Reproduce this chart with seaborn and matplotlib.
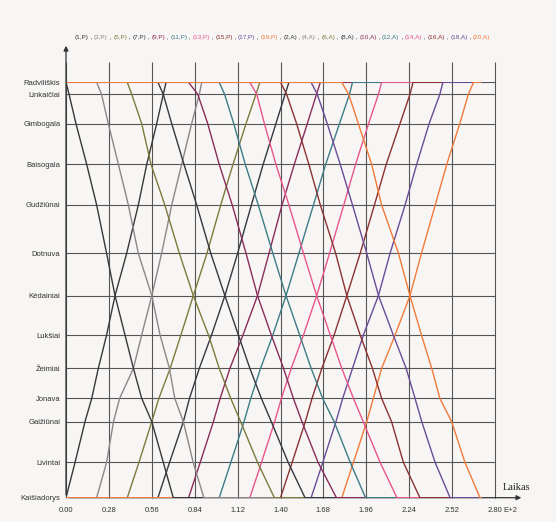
import matplotlib
matplotlib.use("Agg")
import matplotlib.pyplot as plt
import pandas as pd
import seaborn as sns

sns.set_theme(style="white")
plt.rcParams["font.family"] = ["Liberation Sans", "DejaVu Sans"]

# Stations from Radviliškis (top) to Kaišiadorys (bottom) and their distance along the line, km
stations = ["Radviliškis", "Linkaičiai", "Gimbogala", "Baisogala", "Gudžiūnai", "Dotnuva",
            "Kėdainiai", "Lukšiai", "Žeimiai", "Jonava", "Gaižiūnai", "Livintai", "Kaišiadorys"]
station_km = [0.0, 3.6, 12.4, 24.6, 36.8, 51.3, 64.0, 75.8, 85.8, 94.8, 101.8, 114.0, 124.6]

# Passing times (minutes), listed station by station from Radviliškis down to Kaišiadorys.
# P trains run downwards, A trains run upwards.
p1 = [0, 2, 6.5, 13.5, 20, 26.5, 32, 38.5, 44, 49.4, 56, 63.5, 70]
p3 = [20, 23.2, 27.6, 34.2, 40.7, 47.2, 56, 61.4, 67.5, 71, 76.6, 83, 90]
p5 = [40, 42.9, 49.4, 55.5, 64.5, 74, 83.1, 93, 100, 107.5, 114, 125, 136]
p7 = [60, 63.5, 69, 77, 85.3, 94.5, 103.7, 112.5, 120, 127.5, 134, 145, 156]
p9 = [80, 86, 92.5, 100, 108.5, 117.5, 125, 134, 142, 148.4, 154, 164.5, 176.5]
p11 = [100, 103.5, 109.5, 117, 125.5, 135, 143.6, 152.5, 160, 167.5, 175, 185.5, 195.5]
p13 = [120, 124.5, 129.5, 137, 145.5, 155, 163.6, 172.5, 180, 187.6, 194, 205, 216]
p15 = [140, 144, 150.5, 158.5, 166, 176, 183.3, 192, 200, 206, 212.5, 220.2, 231]
p17 = [160, 164, 170.5, 179, 187, 196.3, 204, 213.6, 222, 227.8, 232.2, 240.9, 250.7]
p19 = [180, 184.5, 190.8, 199.5, 206, 217, 224.5, 232, 238.7, 244, 251.7, 260.4, 270.2]

a2 = [65.3, 63.5, 59.2, 52.7, 47.2, 39.6, 32, 26.5, 21.1, 16.8, 12.4, 5.9, 0]
a4 = [88.6, 87, 82, 75.5, 69, 62.4, 56, 49.4, 44, 35, 31, 26.5, 20]
a6 = [126.5, 124, 117.5, 109, 101, 92, 83.1, 75, 68, 60.6, 56, 47.6, 40]
a8 = [145.5, 143, 137, 128.7, 121, 112, 103.7, 95, 87, 80.6, 76.6, 67.6, 60]
a10 = [166, 163.5, 157.5, 149, 141, 132.5, 125, 115.5, 107, 100.6, 96.2, 87.6, 80]
a12 = [187, 185, 178.5, 169.5, 161.5, 152, 143.6, 135, 127, 120.6, 116.2, 107.6, 100]
a14 = [206, 203.9, 197.5, 189, 181.3, 172, 163.6, 155, 147, 140.6, 136.2, 127.6, 120]
a16 = [226.5, 224.5, 218, 209, 201.3, 192, 183.3, 175, 167, 160.6, 156.2, 147.6, 140]
a18 = [246, 244, 237, 228.9, 221.3, 211.5, 203.9, 194.1, 187, 180.6, 176.2, 167.6, 160]
a20 = [266, 262.6, 257, 248.5, 241, 232, 224.5, 214.8, 206, 200.6, 196.3, 187.6, 180]

p_trains = {1: p1, 3: p3, 5: p5, 7: p7, 9: p9, 11: p11, 13: p13, 15: p15, 17: p17, 19: p19}
a_trains = {2: a2, 4: a4, 6: a6, 8: a8, 10: a10, 12: a12, 14: a14, 16: a16, 18: a18, 20: a20}
t_end = 271

colours = ["#383838", "#8e8688", "#7d7a3c", "#34383f", "#8a2c5c",
           "#3d7c86", "#e8558d", "#8a3232", "#6b4c98", "#f27a3a"]

# One long table: each train waits at its origin from t=0, runs, then stays at its terminus
rows = []
for n, times in a_trains.items():
    label = f"({n},A)"
    seq = list(zip(times, station_km))[::-1]
    pts = [(0, station_km[-1])] + seq + [(t_end, station_km[0])]
    rows += [(label, t, km) for t, km in pts]
for n, times in p_trains.items():
    label = f"({n},P)"
    seq = list(zip(times, station_km))
    pts = [(0, station_km[0])] + seq + [(t_end, station_km[-1])]
    rows += [(label, t, km) for t, km in pts]
df = pd.DataFrame(rows, columns=["train", "t", "km"])

p_labels = [f"({n},P)" for n in p_trains]
a_labels = [f"({n},A)" for n in a_trains]
palette = {lab: colours[i] for i, lab in enumerate(p_labels)}
palette.update({lab: colours[i] for i, lab in enumerate(a_labels)})

bg = "#f7f6f4"
fig = plt.figure(figsize=(5.56, 5.22), dpi=100, facecolor=bg)
W, H = 556, 522
x0, x1, ytop, ybot = 66, 495, 82.3, 497.7
ax = fig.add_axes([x0 / W, 1 - ybot / H, (x1 - x0) / W, (ybot - ytop) / H])
ax.set_facecolor(bg)

xticks = [0, 28, 56, 84, 112, 140, 168, 196, 224, 252, 280]
grid_c = "#555555"
ax.vlines(xticks, station_km[-1], -6.2, colors=grid_c, lw=0.8, clip_on=False, zorder=1)
ax.hlines(station_km, 0, 280, colors=grid_c, lw=0.8, zorder=1)

sns.lineplot(data=df, x="t", y="km", hue="train", hue_order=a_labels + p_labels,
             palette=palette, sort=False, estimator=None, legend=False,
             lw=1.0, ax=ax, zorder=3)

ax.set_xlim(0, 280)
ax.set_ylim(station_km[-1], station_km[0])
for s in ax.spines.values():
    s.set_visible(False)
ax.set_xlabel("")
ax.set_ylabel("")
ax.set_xticks(xticks)
ax.set_xticklabels([f"{v / 100:.2f}" for v in xticks], fontsize=5.5, color="#333333")
ax.set_yticks(station_km)
ax.set_yticklabels(stations, fontsize=5.5, color="#333333")
ax.tick_params(axis="x", length=0, pad=7)
ax.tick_params(axis="y", length=0, pad=4)

# Axis arrows
ax.annotate("", xy=(0, -11.8), xytext=(0, station_km[-1]),
            arrowprops=dict(arrowstyle="-|>", color="#333333", lw=0.9, mutation_scale=7),
            annotation_clip=False, zorder=5)
ax.annotate("", xy=(299, station_km[-1]), xytext=(0, station_km[-1]),
            arrowprops=dict(arrowstyle="-|>", color="#333333", lw=0.9, mutation_scale=7),
            annotation_clip=False, zorder=2)
fig.text(503 / W, 1 - 487 / H, "Laikas", fontsize=7.5, family=["Liberation Serif", "DejaVu Serif"],
         color="#222222", va="center", ha="left")
fig.text(503 / W, 1 - 511 / H, "E+2", fontsize=5.5, color="#333333", va="center", ha="left")

# Coloured train list across the top
fig.canvas.draw()
renderer = fig.canvas.get_renderer()
pieces = []
order = p_labels + a_labels
for i, lab in enumerate(order):
    pieces.append((lab, palette[lab]))
    if i < len(order) - 1:
        pieces.append((" , ", "#333333"))
fs = 5.4
start_px, end_px = 75, 493
def row_width(size):
    total = 0
    for s, c in pieces:
        t = fig.text(0, 0, s, fontsize=size)
        total += t.get_window_extent(renderer).width
        t.remove()
    return total
fs = fs * (end_px - start_px) / row_width(fs)
xpos = start_px
for s, c in pieces:
    t = fig.text(xpos / W, 1 - 38 / H, s, fontsize=fs, color=c, va="center", ha="left")
    xpos += t.get_window_extent(renderer).width

fig.savefig("out.png", dpi=100, facecolor=bg)
